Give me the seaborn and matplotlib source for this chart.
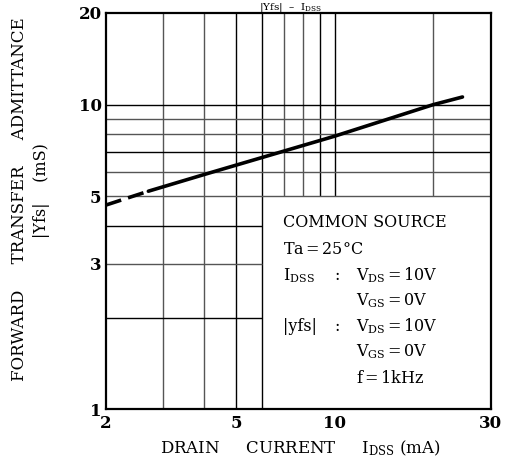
import numpy as np
import pandas as pd
import matplotlib
matplotlib.use("Agg")
import matplotlib.pyplot as plt
import seaborn as sns

# ---- data ----
idss_dashed = [2.0, 2.7]
yfs_dashed = [4.68, 5.2]
idss_solid = [2.7, 4.0, 10.0, 20.0, 24.6]
yfs_solid = [5.2, 5.9, 7.88, 10.0, 10.6]

x_ticks = [2, 5, 10, 30]
y_ticks = [1, 3, 5, 10, 20]
x_lim = [2, 30]
y_lim = [1, 20]

vgrid_full = [3, 4, 5, 6]
vgrid_upper = [7, 8, 9, 10, 20]
hgrid_full = [5, 6, 7, 8, 9, 10]
hgrid_left = [2, 3, 4]

sns.set_theme(style="white")
plt.rcParams["font.family"] = ["DejaVu Serif"]
plt.rcParams["mathtext.fontset"] = "dejavuserif"
plt.rcParams["text.color"] = "black"

W, H = 509, 469
fig = plt.figure(figsize=(W / 100, H / 100), dpi=100)
L, R, T, B = 105.7, 490.7, 13.0, 409.3
ax = fig.add_axes([L / W, 1 - B / H, (R - L) / W, (B - T) / H])
ax.set_xscale("log")
ax.set_yscale("log")
ax.set_xlim(*x_lim)
ax.set_ylim(*y_lim)

gcol = "#555555"
for v in vgrid_full:
    ax.axvline(v, color="black" if v in (5, 6) else gcol, lw=1.0, zorder=1)
for v in vgrid_upper:
    ax.vlines(v, 5, y_lim[1], color="black" if v in (9, 10) else gcol, lw=1.0, zorder=1)
for h in hgrid_full:
    ax.axhline(h, color="black" if h in (10, 7) else gcol, lw=1.0, zorder=1)
for h in hgrid_left:
    ax.hlines(h, x_lim[0], 6, color="black" if h in (2, 4) else gcol, lw=1.0, zorder=1)

df_d = pd.DataFrame({"x": idss_dashed, "y": yfs_dashed})
df_s = pd.DataFrame({"x": idss_solid, "y": yfs_solid})
sns.lineplot(data=df_d, x="x", y="y", ax=ax, color="black", lw=2.6,
             dashes=False, linestyle=(0, (4.5, 2.0)), zorder=3, clip_on=False)
sns.lineplot(data=df_s, x="x", y="y", ax=ax, color="black", lw=2.6, zorder=3)

for s in ax.spines.values():
    s.set_visible(True)
    s.set_color("black")
    s.set_linewidth(1.6)

ax.set_xticks(x_ticks)
ax.set_xticklabels([str(t) for t in x_ticks])
ax.set_yticks(y_ticks)
ax.set_yticklabels([str(t) for t in y_ticks])
ax.xaxis.set_minor_locator(matplotlib.ticker.NullLocator())
ax.yaxis.set_minor_locator(matplotlib.ticker.NullLocator())
ax.tick_params(axis="both", length=0, labelsize=12, colors="black")
ax.tick_params(axis="x", pad=4)
ax.tick_params(axis="y", pad=3)
for lab in ax.get_xticklabels() + ax.get_yticklabels():
    lab.set_fontweight("bold")
ax.set_xlabel("")
ax.set_ylabel("")

# legend block inside the lower-right box
fs = 11.5
kw = dict(transform=ax.transAxes, fontsize=fs, va="baseline", color="black")
ax.text(0.46, 0.460, "COMMON SOURCE", **kw)
ax.text(0.46, 0.393, "Ta$\\,$=$\\,$25°C", **kw)
ax.text(0.46, 0.326, "I$_{\\mathrm{DSS}}$", **kw)
ax.text(0.595, 0.326, ":", **kw)
ax.text(0.65, 0.326, "V$_{\\mathrm{DS}}$$\\,$=$\\,$10V", **kw)
ax.text(0.65, 0.263, "V$_{\\mathrm{GS}}$$\\,$=$\\,$0V", **kw)
ax.text(0.46, 0.197, "|yfs|", **kw)
ax.text(0.595, 0.197, ":", **kw)
ax.text(0.65, 0.197, "V$_{\\mathrm{DS}}$$\\,$=$\\,$10V", **kw)
ax.text(0.65, 0.134, "V$_{\\mathrm{GS}}$$\\,$=$\\,$0V", **kw)
ax.text(0.65, 0.066, "f$\\,$=$\\,$1kHz", **kw)

# axis titles
fig.text(300 / W, 1 - 448 / H, "DRAIN     CURRENT     I$_{\\mathrm{DSS}}$ (mA)",
         ha="center", va="center", fontsize=12, color="black")
fig.text(20 / W, 1 - 199 / H, "FORWARD     TRANSFER     ADMITTANCE",
         ha="center", va="center", rotation=90, fontsize=12, color="black")
fig.text(42 / W, 1 - 191 / H, "|Yfs|    (mS)",
         ha="center", va="center", rotation=90, fontsize=11.5, color="black")
# chart title, squeezed into the strip above the plot
fig.text(290 / W, 1 - 0.5 / H, "|Yfs|  –  I$_{\\mathrm{DSS}}$",
         ha="center", va="top", fontsize=7.5, color="black")

fig.savefig("out.png", dpi=100, facecolor="white")
